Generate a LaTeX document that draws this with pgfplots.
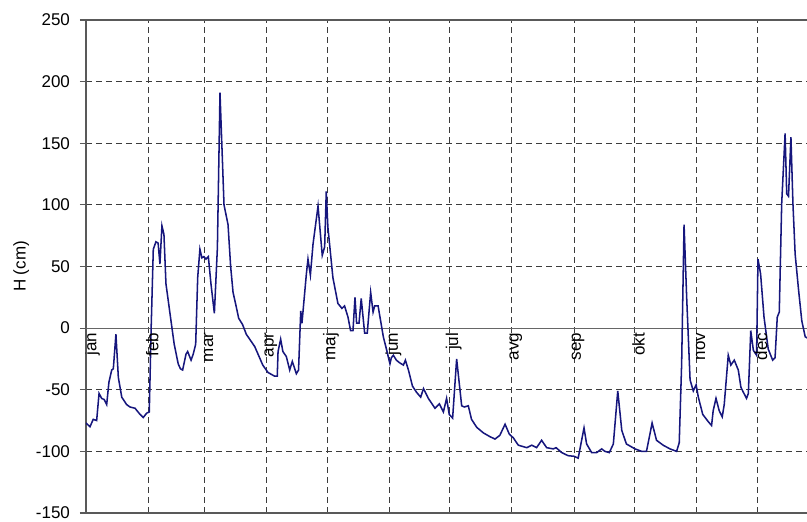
\documentclass[border=0pt]{standalone}
\usepackage{fontspec}
\setmainfont{Liberation Sans}
\usepackage{pgfplots}
\pgfplotsset{compat=1.18}
\definecolor{navyline}{RGB}{22,22,125}
\definecolor{gridc}{RGB}{60,60,60}
\begin{document}
\begin{tikzpicture}
\begin{axis}[
 name=ax,
 scale only axis,
 width=540.75pt, height=369.75pt,
 xmin=0, xmax=358.9, ymin=-150, ymax=250,
 axis x line=box, axis y line=left,
 axis line style={-, draw=black!65, line width=0.8pt},
 ytick={-150,-100,-50,0,50,100,150,200,250},
 yticklabels={-150,-100,-50,0,50,100,150,200,250},
 xtick={31,59,90,120,151,181,212,243,273,304,334},
 xticklabels={},
 xtick style={draw=none},
 ytick style={draw=black!65, line width=0.8pt},
 tick align=outside,
 major tick length=4.5pt,
 grid=major,
 major grid style={gridc, line width=0.7pt, dash pattern=on 4.5pt off 3pt},
 tick label style={font=\fontsize{12.75}{15}\selectfont},
 yticklabel style={xshift=-4pt},
 ylabel={H (cm)},
 every axis y label/.style={at={(axis description cs:-0.09,0.5)}, rotate=90, anchor=center, font=\fontsize{12.75}{15}\selectfont},
 clip=true,
]
\draw[black!60, line width=0.8pt] (axis cs:0,0) -- (axis cs:358.9,0);
\addplot[navyline, line width=1.15pt] coordinates {
(0,-77) (2,-80) (3.6,-74) (5.3,-75) (6.5,-53) (7.8,-57) (9.1,-58) (10.3,-62) (11.4,-44) (12.8,-34) (13.6,-33) (14.9,-5) (16.1,-40) (17.8,-56) (20.2,-62) (21.9,-64) (24.4,-65) (26.9,-70) (28.5,-72.5) (30.2,-69) (31.5,-68) (32.4,-2) (33.5,64) (34.8,70) (35.9,69) (36.8,52) (37.8,83) (38.8,76) (39.8,36) (41.8,12) (43.9,-13) (45.9,-29) (47,-33) (48.1,-34) (49.8,-21) (50.6,-19) (52.3,-26) (53.4,-21) (54.6,-13) (55.6,41) (56.7,64) (57.7,57) (58.7,58) (59.7,56) (60.9,58) (62.2,36) (63.9,12) (65.4,65) (66.7,191) (68.7,100) (69.7,92) (70.7,84) (72,50) (73.2,29) (74.7,18) (76,8) (77.9,3) (79.8,-5) (84,-15) (88,-30) (90.6,-36) (93.9,-39) (95.2,-39) (95.6,-19) (96.9,-9) (98,-19) (99.7,-23) (101.4,-34) (102.7,-27) (104.7,-37) (105.8,-34) (106.9,14) (107.5,4) (109.7,44) (110.5,56) (111.7,43) (113,68) (115.5,99) (117.6,59) (118.8,66) (119.6,111) (120.4,82) (122.9,41) (125.4,20) (127.4,16) (128.7,18) (130.4,9) (131.7,-2) (132.9,-2) (133.9,25) (134.7,4) (135.9,4) (137,24) (138.7,-4) (140,-4) (141.7,29) (142.9,13) (143.7,18) (145.4,18) (148,-7) (149.7,-18) (151.3,-29) (152,-24) (153,-22) (154.5,-26) (156,-28) (158,-30) (159,-26) (160.5,-34) (162.5,-47) (164.5,-52) (166.6,-56) (168,-49) (170.4,-57) (173.7,-65) (175.9,-61.5) (177.9,-68) (179.5,-57) (180.8,-70) (182.5,-73) (184.5,-25) (187,-63) (188.3,-64) (190.3,-63) (191.9,-74) (194.5,-80.5) (197.8,-85) (201,-88) (203.6,-90) (206,-87) (208.6,-78) (210.7,-86) (212.7,-89) (215.2,-95) (219.4,-97) (221.9,-95) (224.3,-97) (226.8,-91) (229.3,-97) (232.6,-98) (234,-97) (236.8,-101) (240,-103.5) (243,-104) (245,-105.5) (247.9,-81) (249.2,-94) (251.7,-101) (254.2,-101) (256.7,-98) (258.3,-100) (260.5,-101) (262.5,-94) (264.7,-51) (266.7,-83) (269,-94) (273.3,-98) (276.6,-100) (279,-100) (281.8,-77) (284,-91) (287.3,-95) (290.7,-98) (294,-100) (295.3,-93) (296.5,-29) (297.7,84) (299,25) (300.7,-42) (302.3,-51) (303.7,-46) (304.8,-56) (307,-70) (309.8,-76) (311.4,-79) (312.2,-67) (313.6,-57) (315.2,-67) (316.7,-72) (317.7,-62) (319.7,-22) (321,-30) (322.7,-26) (324.7,-34) (326,-48) (327.2,-52) (328.8,-57) (329.7,-53) (330.9,-2) (332.2,-18) (333.8,-22) (334.5,56) (335.8,44) (337.5,9) (339.6,-17) (341.8,-26) (343,-24) (344.1,9) (345.1,13) (346.3,101) (348,158) (348.8,109) (349.7,107) (350.9,155) (351.9,101) (353,60) (354.7,31) (356.3,6) (358,-7) (359,-8)
};
\node[rotate=90, anchor=east, font=\fontsize{12.75}{15}\selectfont] at (axis cs:3,0) {jan};
\node[rotate=90, anchor=east, font=\fontsize{12.75}{15}\selectfont] at (axis cs:33,0) {feb};
\node[rotate=90, anchor=east, font=\fontsize{12.75}{15}\selectfont] at (axis cs:61,0) {mar};
\node[rotate=90, anchor=east, font=\fontsize{12.75}{15}\selectfont] at (axis cs:92,0) {apr};
\node[rotate=90, anchor=east, font=\fontsize{12.75}{15}\selectfont] at (axis cs:122,0) {maj};
\node[rotate=90, anchor=east, font=\fontsize{12.75}{15}\selectfont] at (axis cs:153,0) {jun};
\node[rotate=90, anchor=east, font=\fontsize{12.75}{15}\selectfont] at (axis cs:183,0) {jul};
\node[rotate=90, anchor=east, font=\fontsize{12.75}{15}\selectfont] at (axis cs:214,0) {avg};
\node[rotate=90, anchor=east, font=\fontsize{12.75}{15}\selectfont] at (axis cs:245,0) {sep};
\node[rotate=90, anchor=east, font=\fontsize{12.75}{15}\selectfont] at (axis cs:275,0) {okt};
\node[rotate=90, anchor=east, font=\fontsize{12.75}{15}\selectfont] at (axis cs:306,0) {nov};
\node[rotate=90, anchor=east, font=\fontsize{12.75}{15}\selectfont] at (axis cs:336,0) {dec};
\end{axis}
\pgfresetboundingbox
\path ([shift={(-64.5pt,-6.75pt)}]ax.south west) rectangle ([shift={(0pt,15pt)}]ax.north east);
\end{tikzpicture}
\end{document}
